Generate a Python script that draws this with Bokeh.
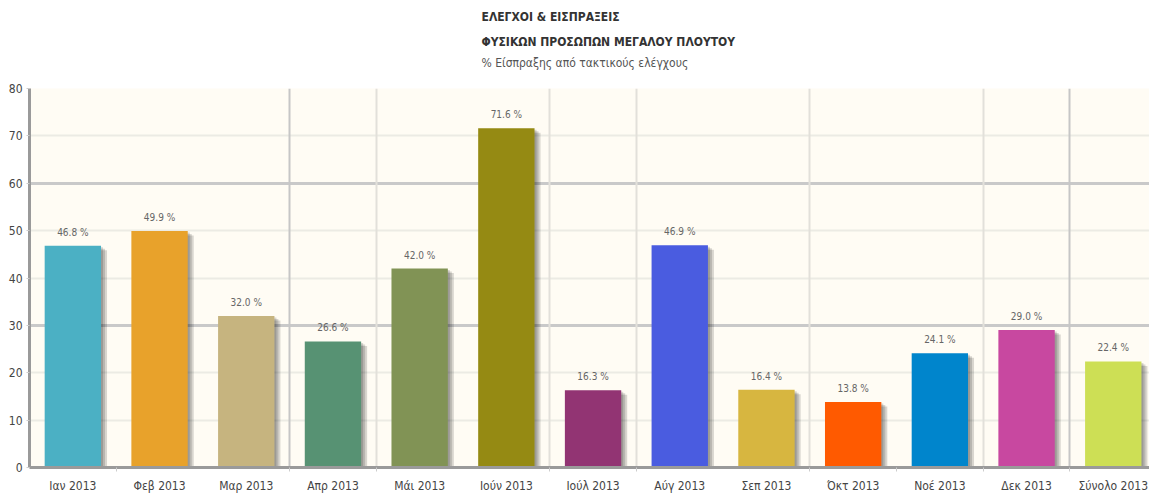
from bokeh.plotting import figure
from bokeh.models import FixedTicker, Grid, Title, ColumnDataSource, Range1d
from bokeh.core.properties import value
from bokeh.embed import file_html
from bokeh.resources import INLINE

categories = ["Ιαν 2013", "Φεβ 2013", "Μαρ 2013", "Απρ 2013", "Μάι 2013", "Ιούν 2013",
              "Ιούλ 2013", "Αύγ 2013", "Σεπ 2013", "Όκτ 2013", "Νοέ 2013", "Δεκ 2013", "Σύνολο 2013"]
values = [46.8, 49.9, 32.0, 26.6, 42.0, 71.6, 16.3, 46.9, 16.4, 13.8, 24.1, 29.0, 22.4]
colors = ["#4bb0c4", "#e8a22b", "#c6b47f", "#579273", "#819355", "#958a13", "#923473",
          "#4a5ce0", "#d7b640", "#ff5a00", "#0085cc", "#c848a0", "#cddf55"]
y_ticks = [0, 10, 20, 30, 40, 50, 60, 70, 80]

FONT = "'DejaVu Sans Condensed', 'Liberation Sans Narrow', 'Roboto', sans-serif"

xs = [i + 0.5 for i in range(len(categories))]
labels = ["%.1f %%" % v for v in values]

p = figure(frame_width=1120, frame_height=379, output_backend="svg", toolbar_location=None,
           x_range=Range1d(0, 12.918), y_range=Range1d(0, 80),
           min_border_left=29, min_border_right=0, min_border_bottom=20, min_border_top=10,
           background_fill_color="#fffcf4", border_fill_color="white", outline_line_color=None)

# titles (added bottom-up)
gap = Title(text=" ", align="left", text_font_size="1px", standoff=13)
t3 = Title(text="% Είσπραξης από τακτικούς ελέγχους", align="left", offset=452,
           text_font=FONT, text_font_size="12px", text_font_style="normal", text_color="#555555",
           standoff=5)
t2 = Title(text="ΦΥΣΙΚΩΝ ΠΡΟΣΩΠΩΝ ΜΕΓΑΛΟΥ ΠΛΟΥΤΟΥ", align="left", offset=452,
           text_font=FONT, text_font_size="12px", text_font_style="bold", text_color="#333333",
           standoff=5)
t1 = Title(text="ΕΛΕΓΧΟΙ & ΕΙΣΠΡΑΞΕΙΣ", align="left", offset=452,
           text_font=FONT, text_font_size="12px", text_font_style="bold", text_color="#333333",
           standoff=14)
p.add_layout(gap, "above")
p.add_layout(t3, "above")
p.add_layout(t2, "above")
p.add_layout(t1, "above")

# grids
p.xgrid.visible = False
p.ygrid.ticker = FixedTicker(ticks=y_ticks)
p.ygrid.grid_line_color = "#ecebe4"
p.ygrid.grid_line_width = 2
p.add_layout(Grid(dimension=1, ticker=FixedTicker(ticks=[30, 60]),
                  grid_line_color="#c9c9c9", grid_line_width=3))
p.add_layout(Grid(dimension=0, ticker=FixedTicker(ticks=[4, 6, 7, 9, 11]),
                  grid_line_color="#e2e0da", grid_line_width=2))
p.add_layout(Grid(dimension=0, ticker=FixedTicker(ticks=[3, 12]),
                  grid_line_color="#c6c6c6", grid_line_width=2))

# shadows
px_x = 86.7
px_y = 4.74
for k in (3, 2, 1):
    sx = [x + 2.0 * k / px_x for x in xs]
    st = [v - 1.5 * k / px_y for v in values]
    p.vbar(x=sx, top=st, bottom=0, width=0.65, fill_color="#000000", fill_alpha=0.15,
           line_color=None)

src = ColumnDataSource(dict(x=xs, top=values, color=colors, label=labels))
p.vbar(x="x", top="top", bottom=0, width=0.65, fill_color="color", line_color=None, source=src)
p.text(x="x", y="top", text="label", source=src, text_align="center", text_baseline="bottom",
       y_offset=-8, text_font=value(FONT), text_font_size="10px", text_color="#666666")

# axes
xa = p.xaxis[0]
xa.ticker = FixedTicker(ticks=xs, minor_ticks=[1, 3, 4, 6, 7, 9, 10, 11, 12])
xa.major_label_overrides = {x: c for x, c in zip(xs, categories)}
xa.major_tick_line_color = None
xa.major_tick_out = 0
xa.major_tick_in = 0
xa.minor_tick_out = 4
xa.minor_tick_in = 0
xa.minor_tick_line_color = "#cccccc"
xa.axis_line_color = "#9a9a9a"
xa.axis_line_width = 3
xa.major_label_standoff = 7
xa.major_label_text_font = FONT
xa.major_label_text_font_size = "12px"
xa.major_label_text_color = "#444444"

ya = p.yaxis[0]
ya.ticker = FixedTicker(ticks=y_ticks)
ya.minor_tick_line_color = None
ya.major_tick_out = 3
ya.major_tick_in = 0
ya.major_tick_line_color = "#cccccc"
ya.axis_line_color = "#9a9a9a"
ya.axis_line_width = 3
ya.major_label_standoff = 4
ya.major_label_text_font = FONT
ya.major_label_text_font_size = "12px"
ya.major_label_text_color = "#444444"

open("out.html", "w").write(file_html(p, INLINE))
